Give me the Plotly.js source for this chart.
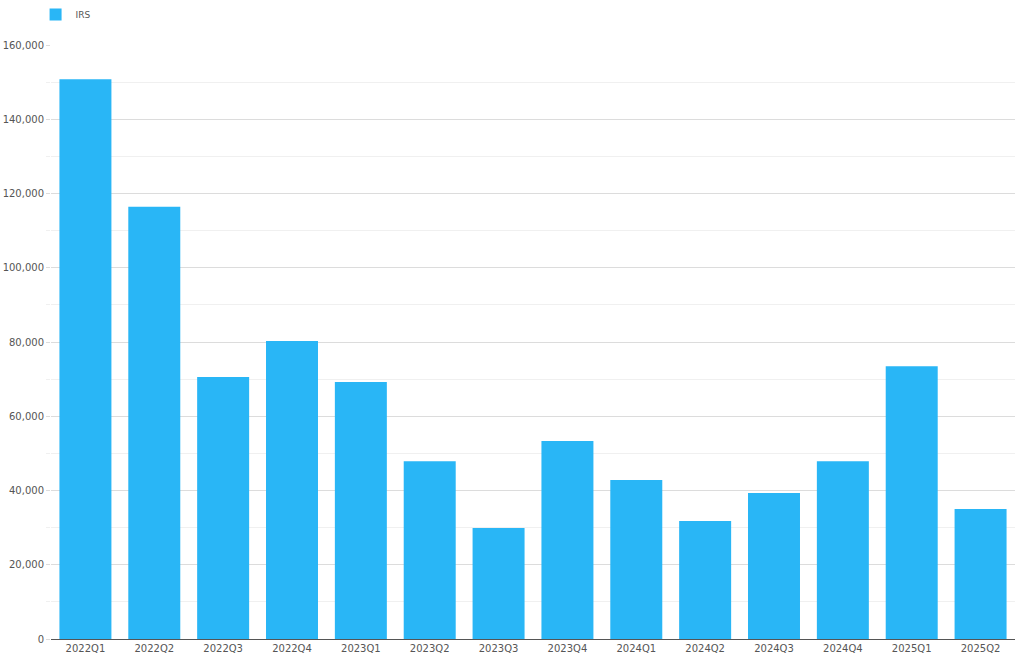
<!DOCTYPE html>
<html>
<head>
<meta charset="utf-8">
<script src="https://cdn.plot.ly/plotly-3.0.1.min.js"></script>
<style>html,body{margin:0;padding:0;background:#fff;}#chart{width:1024px;height:664px;}</style>
</head>
<body>
<div id="chart"></div>
<script>
const categories = ["2022Q1","2022Q2","2022Q3","2022Q4","2023Q1","2023Q2","2023Q3","2023Q4","2024Q1","2024Q2","2024Q3","2024Q4","2025Q1","2025Q2"];
const irsValues = [150800, 116400, 70600, 80300, 69200, 47900, 29900, 53300, 42800, 31800, 39300, 47900, 73500, 35000];
const seriesName = "IRS";

const trace = {
  type: "bar",
  x: categories,
  y: irsValues,
  name: seriesName,
  marker: {color: "#29b6f6"},
  hoverinfo: "x+y"
};

const layout = {
  width: 1024,
  height: 664,
  margin: {l: 51, r: 9, t: 45, b: 25},
  paper_bgcolor: "#fff",
  plot_bgcolor: "#fff",
  font: {family: "DejaVu Sans, Verdana, sans-serif", size: 10, color: "#555"},
  bargap: 0.245,
  showlegend: true,
  legend: {
    x: -0.016, y: 1, xref: "paper", yref: "container", xanchor: "left", yanchor: "top",
    orientation: "h",
    font: {size: 9, color: "#555"},
    bgcolor: "rgba(0,0,0,0)",
    itemwidth: 30
  },
  xaxis: {
    type: "category",
    showline: true,
    linecolor: "#555",
    linewidth: 1,
    ticks: "",
    showgrid: false,
    tickfont: {size: 10, color: "#555"}
  },
  yaxis: {
    range: [0, 160000],
    dtick: 20000,
    tickformat: ",",
    showgrid: true,
    gridcolor: "#dcdcdc",
    zeroline: false,
    showline: false,
    ticks: "outside",
    ticklen: 4,
    tickcolor: "#dcdcdc",
    tickfont: {size: 10, color: "#555"},
    minor: {dtick: 10000, showgrid: true, gridcolor: "#f0f0f0", ticks: "outside", ticklen: 4, tickcolor: "#f0f0f0"}
  }
};

Plotly.newPlot("chart", [trace], layout, {displayModeBar: false, staticPlot: true});
</script>
</body>
</html>
